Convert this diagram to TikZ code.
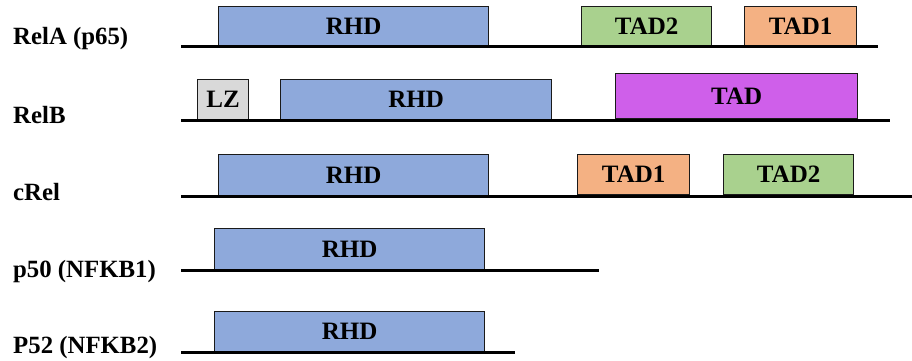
\documentclass[tikz,border=0pt]{standalone}
\usepackage{fontspec}
\setmainfont{Liberation Serif}
\definecolor{rhdblue}{HTML}{8EA9DB}
\definecolor{tadgreen}{HTML}{A9D18E}
\definecolor{tadorange}{HTML}{F4B183}
\definecolor{tadpurple}{HTML}{CF5FEA}
\definecolor{lzgray}{HTML}{D9D9D9}
\definecolor{edge}{HTML}{1A1A1A}
\tikzset{
  dombox/.style={draw=edge, line width=1.3pt, anchor=south west, inner sep=0pt,
    font=\fontsize{25}{25}\selectfont\bfseries, text=black},
  backbone/.style={draw=black, line width=3pt},
  protname/.style={anchor=base west, inner sep=0pt,
    font=\fontsize{24.8}{24.8}\selectfont\bfseries}
}
\begin{document}
\begin{tikzpicture}[x=1pt, y=-1pt]
\useasboundingbox (0,0) rectangle (912,360);

% RelA (p65)
\node[protname] (n1) at (13,44) {RelA (p65)};
\node[dombox, fill=rhdblue, minimum width=270pt, minimum height=39pt] (a1) at (218,46) {RHD};
\node[dombox, fill=tadgreen, minimum width=130pt, minimum height=39pt] (a2) at (581,46) {TAD2};
\node[dombox, fill=tadorange, minimum width=112pt, minimum height=39pt] (a3) at (744,46) {TAD1};
\coordinate (l1s) at (181,46);
\coordinate (l1e) at (878,46);
\draw[backbone] (l1s) -- (l1e);

% RelB
\node[protname] (n2) at (13,123) {RelB};
\node[dombox, fill=lzgray, minimum width=51pt, minimum height=40pt] (b1) at (197,120) {LZ};
\node[dombox, fill=rhdblue, minimum width=271pt, minimum height=40pt] (b2) at (280,120) {RHD};
\node[dombox, fill=tadpurple, minimum width=242pt, minimum height=45pt] (b3) at (615,119) {TAD};
\coordinate (l2s) at (181,120);
\coordinate (l2e) at (890,120);
\draw[backbone] (l2s) -- (l2e);

% cRel
\node[protname] (n3) at (13,200) {cRel};
\node[dombox, fill=rhdblue, minimum width=270pt, minimum height=41pt] (c1) at (218,196) {RHD};
\node[dombox, fill=tadorange, minimum width=112pt, minimum height=40pt] (c2) at (577,195) {TAD1};
\node[dombox, fill=tadgreen, minimum width=130pt, minimum height=40pt] (c3) at (723,195) {TAD2};
\coordinate (l3s) at (181,196);
\coordinate (l3e) at (912,196);
\draw[backbone] (l3s) -- (l3e);

% p50 (NFKB1)
\node[protname] (n4) at (13,277) {p50 (NFKB1)};
\node[dombox, fill=rhdblue, minimum width=270pt, minimum height=41pt] (d1) at (214,270) {RHD};
\coordinate (l4s) at (181,270);
\coordinate (l4e) at (599,270);
\draw[backbone] (l4s) -- (l4e);

% P52 (NFKB2)
\node[protname] (n5) at (13,353) {P52 (NFKB2)};
\node[dombox, fill=rhdblue, minimum width=270pt, minimum height=40pt] (e1) at (214,352) {RHD};
\coordinate (l5s) at (181,352);
\coordinate (l5e) at (515,352);
\draw[backbone] (l5s) -- (l5e);
\end{tikzpicture}
\end{document}
